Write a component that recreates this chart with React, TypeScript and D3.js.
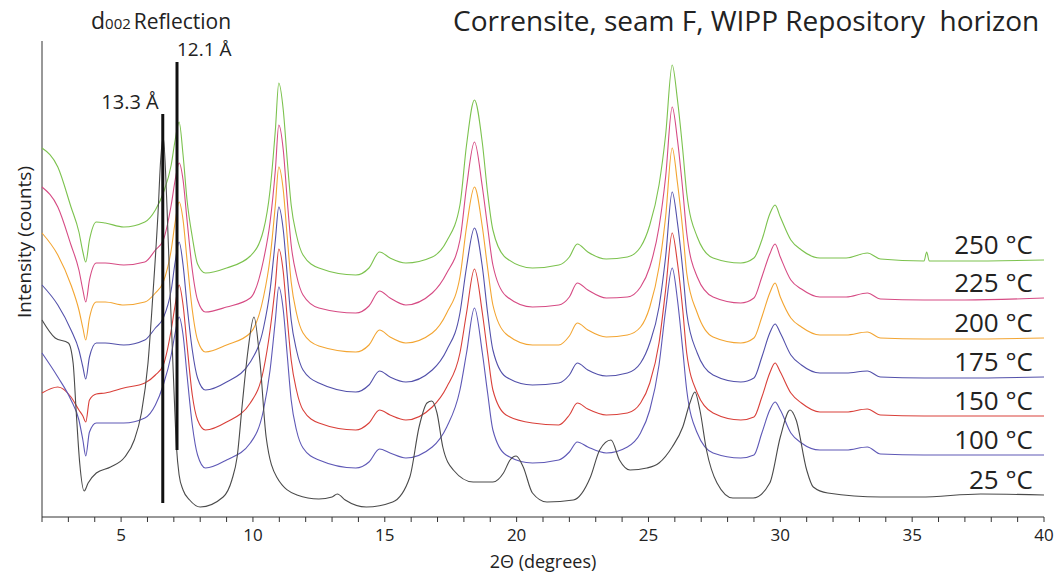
import React from "react";
import * as d3 from "d3";

// 2θ sampling positions shared by the heated patterns
const heatedAngles = [2.0, 2.6, 3.1, 3.4, 3.55, 3.66, 3.8, 4.06, 4.4, 5.1, 5.9, 6.3, 6.6, 6.9, 7.05, 7.2, 7.35, 7.5, 7.7, 7.9, 8.2, 9.0, 9.9, 10.4, 10.65, 10.85, 10.98, 11.15, 11.3, 11.45, 11.65, 11.9, 12.5, 13.9, 14.4, 14.8, 15.2, 15.8, 16.8, 17.35, 17.85, 18.1, 18.4, 18.7, 18.9, 19.1, 19.6, 20.6, 21.6, 22.0, 22.3, 22.7, 23.4, 24.2, 24.7, 25.05, 25.4, 25.65, 25.9, 26.1, 26.3, 26.45, 26.85, 27.45, 28.5, 29.0, 29.3, 29.6, 29.8, 30.0, 30.4, 30.8, 31.5, 32.5, 33.3, 33.8, 35.45, 35.55, 35.65, 37, 40];

// stacked intensities (arbitrary counts)
const intensity250 = [369, 350, 310, 285, 265, 255, 277, 295, 294, 290, 295, 307, 324, 352, 377, 395, 362, 317, 280, 253, 244, 249, 261, 287, 327, 387, 434, 407, 357, 312, 282, 262, 249, 242, 249, 265, 259, 254, 260, 276, 312, 372, 417, 374, 324, 287, 259, 249, 252, 260, 273, 265, 258, 260, 270, 292, 332, 382, 452, 417, 367, 324, 280, 259, 254, 259, 277, 303, 312, 300, 277, 267, 259, 259, 264, 258, 256, 265, 256, 256, 257];
const intensity225 = [330, 310, 272, 247, 227, 215, 237, 254, 254, 252, 255, 267, 277, 312, 337, 354, 337, 297, 247, 217, 205, 210, 219, 257, 295, 347, 392, 367, 317, 272, 242, 222, 209, 204, 211, 226, 219, 212, 224, 244, 277, 330, 375, 330, 290, 252, 221, 210, 212, 220, 234, 227, 219, 220, 230, 250, 290, 340, 410, 377, 327, 284, 240, 220, 214, 219, 240, 263, 273, 260, 237, 228, 220, 220, 224, 218, 217, 217, 217, 217, 219];
const intensity200 = [284, 262, 232, 207, 189, 177, 199, 215, 215, 212, 215, 224, 235, 267, 295, 315, 297, 257, 207, 177, 165, 172, 184, 220, 259, 312, 350, 327, 280, 235, 204, 184, 171, 165, 172, 187, 180, 174, 184, 204, 240, 290, 330, 290, 249, 212, 183, 172, 172, 181, 194, 187, 180, 182, 190, 210, 250, 300, 369, 334, 287, 244, 204, 180, 174, 179, 200, 224, 234, 220, 199, 190, 182, 182, 185, 179, 178, 178, 178, 178, 179];
const intensity175 = [232, 212, 187, 167, 150, 138, 160, 174, 174, 172, 177, 189, 199, 227, 255, 275, 252, 212, 167, 139, 127, 135, 155, 189, 227, 277, 310, 287, 242, 197, 167, 147, 134, 125, 132, 146, 140, 135, 147, 167, 204, 250, 289, 250, 204, 167, 140, 132, 134, 142, 154, 147, 141, 144, 154, 174, 210, 260, 325, 294, 247, 204, 164, 142, 135, 139, 160, 184, 193, 184, 162, 152, 144, 144, 146, 140, 139, 139, 139, 139, 140];
const intensity150 = [124, 130, 120, 107, 101, 95, 117, 123, 124, 129, 134, 142, 152, 187, 212, 232, 212, 172, 122, 97, 87, 95, 114, 147, 187, 232, 268, 245, 199, 157, 127, 107, 94, 87, 94, 107, 102, 97, 110, 130, 164, 204, 248, 204, 164, 127, 102, 94, 92, 102, 114, 108, 102, 104, 114, 134, 174, 227, 284, 254, 207, 164, 124, 104, 97, 100, 120, 144, 154, 145, 124, 114, 105, 105, 108, 102, 101, 101, 101, 101, 101];
const intensity100 = [164, 140, 117, 97, 77, 61, 85, 94, 94, 94, 99, 112, 132, 162, 184, 200, 182, 142, 92, 62, 49, 57, 74, 107, 147, 197, 230, 207, 162, 117, 87, 69, 57, 49, 55, 68, 64, 59, 70, 90, 127, 164, 209, 164, 124, 87, 62, 54, 57, 65, 75, 70, 64, 70, 84, 107, 152, 207, 249, 217, 167, 127, 84, 64, 59, 62, 84, 107, 115, 107, 84, 74, 67, 67, 70, 63, 62, 62, 62, 62, 62];

// room temperature pattern
const roomAngles = [2.0, 2.5, 3.0, 3.18, 3.3, 3.43, 3.6, 3.75, 4.06, 4.6, 5.14, 5.5, 5.77, 6.02, 6.2, 6.4, 6.5, 6.6, 6.73, 6.85, 7.0, 7.1, 7.2, 7.35, 7.6, 8.0, 8.87, 9.2, 9.4, 9.6, 9.8, 10.04, 10.27, 10.5, 10.9, 11.67, 12.5, 13.0, 13.2, 13.5, 14.3, 15.3, 15.95, 16.3, 16.6, 16.78, 16.98, 17.2, 17.6, 18.35, 19.1, 19.5, 19.75, 19.98, 20.25, 20.6, 21.15, 22.15, 22.8, 23.15, 23.58, 23.9, 24.3, 24.94, 25.4, 25.9, 26.3, 26.57, 26.76, 26.95, 27.2, 27.6, 28.2, 28.97, 29.6, 30.0, 30.37, 30.6, 31.0, 31.25, 31.8, 33.8, 35.3, 37.6, 40];
const intensity25 = [197, 179, 174, 154, 104, 54, 26, 34, 44, 50, 60, 77, 104, 154, 220, 304, 357, 380, 317, 230, 130, 70, 42, 27, 17, 10, 20, 37, 60, 114, 164, 200, 154, 80, 40, 22, 18, 20, 23, 17, 10, 15, 40, 90, 114, 116, 104, 70, 47, 35, 35, 44, 57, 61, 50, 24, 15, 17, 40, 67, 77, 57, 47, 49, 54, 70, 90, 114, 125, 107, 67, 34, 19, 19, 34, 80, 107, 97, 47, 30, 24, 20, 20, 23, 22];

const seriesLabels = ["250 °C", "225 °C", "200 °C", "175 °C", "150 °C", "100 °C", "25 °C"];
const seriesColors = ["#7cc24e", "#d64b84", "#f3a532", "#5250aa", "#d9403a", "#5e58b6", "#4a4a4a"];

const xTickValues = d3.range(2, 41, 1);
const xLabelValues = [5, 10, 15, 20, 25, 30, 35, 40];

// d-spacing markers: angle, top and bottom intensity
const markerLabels = ["13.3 Å", "12.1 Å"];
const markerAngles = [6.58, 7.12];
const markerTops = [403, 455];
const markerBottoms = [14, 67];

const FONT = "'Open Sans', 'Noto Sans', sans-serif";

export default function App() {
  const W = 1060;
  const H = 577;
  const x = d3.scaleLinear().domain([2, 40]).range([42, 1044]);
  const y = d3.scaleLinear().domain([0, 476]).range([517, 41]);

  const line = d3
    .line<[number, number]>()
    .x((d) => x(d[0]))
    .y((d) => y(d[1]))
    .curve(d3.curveMonotoneX);

  const heated = [intensity250, intensity225, intensity200, intensity175, intensity150, intensity100];
  const series: [number, number][][] = heated.map((vals) =>
    heatedAngles.map((a, i) => [a, vals[i]] as [number, number])
  );
  series.push(roomAngles.map((a, i) => [a, intensity25[i]] as [number, number]));

  return (
    <svg
      width={W}
      height={H}
      style={{ position: "absolute", left: 0, top: 0, background: "#fff" }}
      fontFamily={FONT}
    >
      {/* axes */}
      <line x1={x(2)} x2={x(2)} y1={41} y2={y(0)} stroke="#333" strokeWidth={1} />
      <line x1={x(2)} x2={x(40)} y1={y(0)} y2={y(0)} stroke="#333" strokeWidth={1} />
      {xTickValues.map((t) => (
        <line key={"t" + t} x1={x(t)} x2={x(t)} y1={y(0)} y2={y(0) + 5} stroke="#333" strokeWidth={1} />
      ))}
      {xLabelValues.map((t) => (
        <text key={"l" + t} x={x(t)} y={541} fontSize={17} textAnchor="middle" fill="#222">
          {t}
        </text>
      ))}
      <text x={(x(2) + x(40)) / 2} y={568} fontSize={18} textAnchor="middle" fill="#222">
        2Θ (degrees)
      </text>
      <text
        transform={`translate(31, 242) rotate(-90)`}
        fontSize={19}
        textAnchor="middle"
        fill="#222"
      >
        Intensity (counts)
      </text>

      {/* patterns */}
      {series.map((s, i) => (
        <path key={"s" + i} d={line(s) || ""} fill="none" stroke={seriesColors[i]} strokeWidth={1.1} />
      ))}

      {/* series labels */}
      {series.map((s, i) => (
        <text
          key={"lab" + i}
          x={1033}
          y={y(s[s.length - 1][1]) - 6}
          fontSize={26}
          textAnchor="end"
          fill="#222"
        >
          {seriesLabels[i]}
        </text>
      ))}

      {/* d-spacing markers */}
      {markerAngles.map((a, i) => (
        <line
          key={"m" + i}
          x1={x(a)}
          x2={x(a)}
          y1={y(markerTops[i])}
          y2={y(markerBottoms[i])}
          stroke="#111"
          strokeWidth={3}
        />
      ))}
      <text x={x(markerAngles[0]) - 4} y={y(markerTops[0]) - 5} fontSize={20} textAnchor="end" fill="#222">
        {markerLabels[0]}
      </text>
      <text x={x(markerAngles[1])} y={y(markerTops[1]) - 6} fontSize={19} textAnchor="start" fill="#222">
        {markerLabels[1]}
      </text>
      <text x={91} y={29} fill="#222">
        <tspan fontSize={23}>d</tspan>
        <tspan fontSize={15}>002</tspan>
        <tspan fontSize={21} dx={3}>Reflection</tspan>
      </text>

      {/* title */}
      <text x={453} y={31} fontSize={28} fill="#222" style={{ whiteSpace: "pre" }}>
        {"Corrensite, seam F, WIPP Repository  horizon"}
      </text>
    </svg>
  );
}
